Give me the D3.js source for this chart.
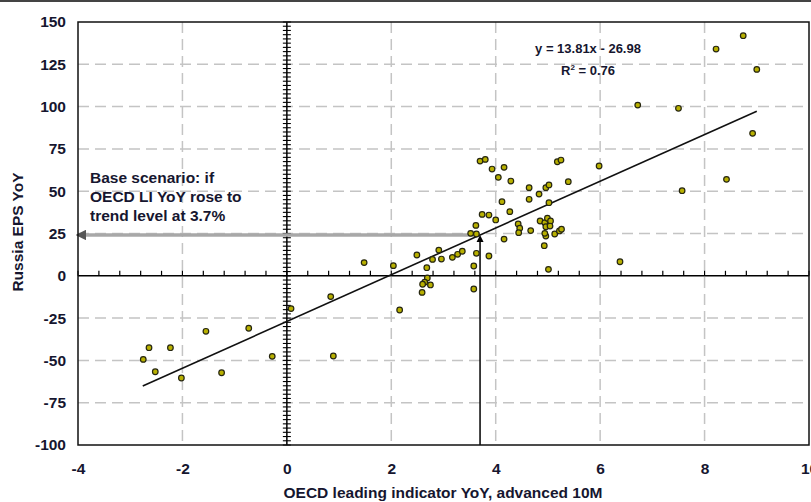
<!DOCTYPE html>
<html lang="en">
<head>
    <meta charset="UTF-8">
    <title>Russia EPS vs OECD LI</title>
    <script src="https://cdn.jsdelivr.net/npm/d3@7/dist/d3.min.js"></script>
    <style>
        body { margin: 0; background: #fff; }
        svg text { font-family: "Liberation Sans", Arial, sans-serif; font-weight: bold; fill: #16162f; }
    </style>
</head>
<body>
    <svg width="811" height="502"></svg>

    <script>
        // OECD leading indicator YoY (advanced 10M)
        var liYoY = [-2.75, -2.64, -2.52, -2.23, -2.02, -1.55, -1.25, -0.73, -0.28, 0.08,
            0.84, 0.89, 1.48, 2.04, 2.16,
            2.49, 2.68, 2.69, 2.64, 2.60, 2.75, 2.59,
            2.79, 2.91, 2.96, 3.17, 3.27, 3.36,
            3.52, 3.63, 3.62, 3.63, 3.58, 3.58,
            3.70, 3.80, 3.93, 4.16, 4.05, 4.29,
            3.74, 3.87, 4.00, 4.12, 4.27, 3.87, 4.16,
            4.43, 4.46, 4.44, 4.67,
            4.64, 4.64, 4.83, 4.96, 5.02, 5.02,
            4.85, 4.94, 4.99, 5.05, 4.96, 5.04, 4.96, 4.94, 4.93,
            5.13, 5.22, 5.26, 5.01,
            5.18, 5.25, 5.39, 5.98, 6.38,
            6.72, 7.50, 7.57, 8.22, 8.74, 9.00, 8.92, 8.42];
        // Russia EPS YoY
        var epsYoY = [-49.4, -42.5, -56.7, -42.5, -60.4, -32.8, -57.3, -31.0, -47.6, -19.4,
            -12.3, -47.4, 7.8, 6.0, -20.2,
            12.3, 4.8, -1.3, -3.8, -5.0, -5.4, -9.8,
            9.7, 15.2, 9.9, 10.9, 12.7, 14.5,
            25.1, 24.7, 29.8, 13.3, 5.8, -7.8,
            67.8, 68.8, 63.1, 64.1, 58.2, 56.0,
            36.3, 35.9, 33.0, 43.8, 37.9, 11.7, 21.7,
            30.6, 28.1, 25.5, 26.7,
            52.1, 45.2, 48.3, 52.1, 53.7, 43.2,
            32.4, 31.4, 34.0, 32.4, 29.0, 29.4, 23.5, 25.1, 17.8,
            24.7, 26.5, 27.5, 3.8,
            67.4, 68.4, 55.6, 64.9, 8.3,
            100.9, 99.0, 50.3, 134.0, 141.9, 122.0, 84.2, 57.0];

        var xTicks = [-4, -2, 0, 2, 4, 6, 8, 10];
        var yTicks = [-100, -75, -50, -25, 0, 25, 50, 75, 100, 125, 150];
        var slope = 13.81, intercept = -26.98;
        var trendRange = [-2.76, 9.0];
        var baseLI = 3.7;

        var svg = d3.select("svg");
        var x = d3.scaleLinear().domain([-4, 10]).range([78, 809]);
        var y = d3.scaleLinear().domain([-100, 150]).range([445, 22]);
        const plain = d => String(d);   // hyphen minus like the original

        // top frame line of the picture
        svg.append("line").attr("x1", 0).attr("x2", 811).attr("y1", 1).attr("y2", 1)
            .attr("stroke", "#444").attr("stroke-width", 2);

        // dashed gridlines
        svg.append("g")
            .selectAll("line")
            .data(xTicks.filter(d => d !== 0 && d > -4 && d < 10))
            .enter().append("line")
            .attr("x1", d => x(d)).attr("x2", d => x(d))
            .attr("y1", y(150)).attr("y2", y(-100))
            .attr("stroke", "#c4c4c4").attr("stroke-width", 1.5)
            .attr("stroke-dasharray", "11,6");
        svg.append("g")
            .selectAll("line")
            .data(yTicks.filter(d => d !== 0 && d > -100 && d < 150))
            .enter().append("line")
            .attr("x1", x(-4)).attr("x2", x(10))
            .attr("y1", d => y(d)).attr("y2", d => y(d))
            .attr("stroke", "#c4c4c4").attr("stroke-width", 1.5)
            .attr("stroke-dasharray", "11,6");

        // zero axes with minor ticks
        svg.append("line").attr("x1", x(-4)).attr("x2", x(10)).attr("y1", y(0)).attr("y2", y(0))
            .attr("stroke", "#000").attr("stroke-width", 1.5);
        svg.append("line").attr("x1", x(0)).attr("x2", x(0)).attr("y1", y(150)).attr("y2", y(-100))
            .attr("stroke", "#000").attr("stroke-width", 1.5);
        svg.append("g").selectAll("line")
            .data(d3.range(-4, 10.001, 0.4))
            .enter().append("line")
            .attr("x1", d => x(d)).attr("x2", d => x(d))
            .attr("y1", y(0)).attr("y2", y(0) - 5)
            .attr("stroke", "#000").attr("stroke-width", 1.2);
        svg.append("g").selectAll("line")
            .data(d3.range(-100, 150.001, 2.5))
            .enter().append("line")
            .attr("x1", x(0) - 4).attr("x2", x(0) + 4)
            .attr("y1", d => y(d)).attr("y2", d => y(d))
            .attr("stroke", "#000").attr("stroke-width", 1.1);

        // arrows
        var defs = svg.append("defs");
        defs.append("marker").attr("id", "arrG")
            .attr("viewBox", "0 0 10 10").attr("refX", 2).attr("refY", 5)
            .attr("markerWidth", 3).attr("markerHeight", 3).attr("orient", "auto")
            .append("path").attr("d", "M0,0 L10,5 L0,10 z").attr("fill", "#555");
        defs.append("marker").attr("id", "arrB")
            .attr("viewBox", "0 0 10 10").attr("refX", 2).attr("refY", 5)
            .attr("markerWidth", 5).attr("markerHeight", 5).attr("orient", "auto")
            .append("path").attr("d", "M0,0 L10,5 L0,10 z").attr("fill", "#000");

        var baseEPS = slope * baseLI + intercept;
        svg.append("line")
            .attr("x1", x(baseLI)).attr("x2", x(-4) + 6)
            .attr("y1", y(baseEPS)).attr("y2", y(baseEPS))
            .attr("stroke", "#a8a8a8").attr("stroke-width", 3.5)
            .attr("marker-end", "url(#arrG)");
        svg.append("line")
            .attr("x1", x(baseLI)).attr("x2", x(baseLI))
            .attr("y1", y(-100)).attr("y2", y(baseEPS) + 6)
            .attr("stroke", "#000").attr("stroke-width", 1.5)
            .attr("marker-end", "url(#arrB)");

        // trend line
        svg.append("line")
            .attr("x1", x(trendRange[0])).attr("y1", y(slope * trendRange[0] + intercept))
            .attr("x2", x(trendRange[1])).attr("y2", y(slope * trendRange[1] + intercept))
            .attr("stroke", "#111").attr("stroke-width", 1.6);

        // points
        svg.append("g").selectAll("circle")
            .data(liYoY.map((v, i) => [v, epsYoY[i]]))
            .enter().append("circle")
            .attr("cx", d => x(d[0])).attr("cy", d => y(d[1]))
            .attr("r", 2.8)
            .attr("fill", "#b8b000").attr("stroke", "#262610").attr("stroke-width", 1.2);

        // plot frame
        svg.append("rect")
            .attr("x", x(-4)).attr("y", y(150))
            .attr("width", x(10) - x(-4)).attr("height", y(-100) - y(150))
            .attr("fill", "none").attr("stroke", "#111").attr("stroke-width", 1.5);

        // tick labels
        var yAxis = svg.append("g").attr("transform", "translate(66,0)")
            .call(d3.axisLeft(y).tickValues(yTicks).tickFormat(plain).tickSize(0).tickPadding(0));
        yAxis.select(".domain").remove();
        yAxis.selectAll("text").style("font-size", "15.5px").attr("fill", null);

        var xAxis = svg.append("g").attr("transform", "translate(0,463)")
            .call(d3.axisBottom(x).tickValues(xTicks).tickFormat(plain).tickSize(0).tickPadding(0));
        xAxis.select(".domain").remove();
        xAxis.selectAll("text").style("font-size", "15.5px").attr("fill", null);

        // axis titles
        svg.append("text").attr("x", 443).attr("y", 498)
            .attr("text-anchor", "middle").style("font-size", "15.5px")
            .text("OECD leading indicator YoY, advanced 10M");
        svg.append("text")
            .attr("transform", "translate(23,232) rotate(-90)")
            .attr("text-anchor", "middle").style("font-size", "15.5px")
            .text("Russia EPS YoY");

        // annotations
        var note = svg.append("text").attr("x", 90).attr("y", 183).style("font-size", "15.5px");
        ["Base scenario: if", "OECD LI YoY rose to", "trend level at 3.7%"].forEach((s, i) => {
            note.append("tspan").attr("x", 90).attr("dy", i === 0 ? 0 : 19).text(s);
        });

        svg.append("text").attr("x", 588).attr("y", 53)
            .attr("text-anchor", "middle").style("font-size", "13px")
            .text("y = 13.81x - 26.98");
        var r2 = svg.append("text").attr("x", 588).attr("y", 75)
            .attr("text-anchor", "middle").style("font-size", "13px");
        r2.append("tspan").text("R");
        r2.append("tspan").attr("dy", -5).style("font-size", "8px").text("2");
        r2.append("tspan").attr("dy", 5).text(" = 0.76");
    </script>
</body>
</html>
